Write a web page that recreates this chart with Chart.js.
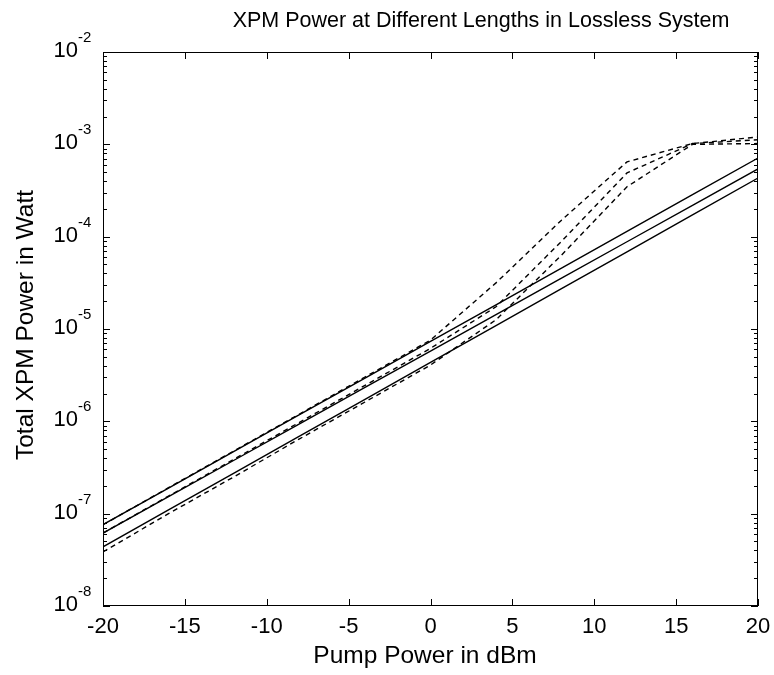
<!DOCTYPE html>
<html>
<head>
<meta charset="utf-8">
<script src="https://cdn.jsdelivr.net/npm/chart.js@4.4.1/dist/chart.umd.min.js"></script>
<style>
html,body{margin:0;padding:0;background:#fff;}
canvas{display:block;}
</style>
</head>
<body>
<canvas id="grafico" width="774" height="675"></canvas>
<script>
const $ = id => document.getElementById(id);

// ===== DATA =====
const pumpDbm = [-20,-16,-12,-8,-4,0,4,8,12,16,20];
const xTicks = [-20,-15,-10,-5,0,5,10,15,20];
const yExps = [-8,-7,-6,-5,-4,-3,-2];

const titulo = 'XPM Power at Different Lengths in Lossless System';
const xTitulo = 'Pump Power in dBm';
const yTitulo = 'Total XPM Power in Watt';

// solid (analytic) curves
const solido1 = [7.6e-8,1.89e-7,4.72e-7,1.18e-6,2.94e-6,7.35e-6,1.83e-5,4.57e-5,1.14e-4,2.85e-4,7.1e-4];
const solido2 = [6.17e-8,1.53e-7,3.79e-7,9.4e-7,2.33e-6,5.77e-6,1.43e-5,3.55e-5,8.81e-5,2.18e-4,5.41e-4];
const solido3 = [4.37e-8,1.1e-7,2.75e-7,6.9e-7,1.73e-6,4.35e-6,1.09e-5,2.74e-5,6.85e-5,1.72e-4,4.32e-4];

// dashed curves
const tracejado1 = [7.59e-8,1.91e-7,4.79e-7,1.2e-6,3.02e-6,7.59e-6,3.16e-5,1.51e-4,6.46e-4,1.02e-3,1.2e-3];
const tracejado2 = [6.17e-8,1.55e-7,3.89e-7,9.77e-7,2.45e-6,6.17e-6,1.74e-5,8.91e-5,4.9e-4,1.02e-3,1.12e-3];
const tracejado3 = [3.85e-8,1.0e-7,2.51e-7,6.46e-7,1.62e-6,4.07e-6,1.26e-5,6.31e-5,3.47e-4,1.0e-3,1.02e-3];

// ===== HELPERS =====
const pts = serie => pumpDbm.map((x,i)=>({x, y:serie[i]}));
const linha = (serie, dash) => ({
  data: pts(serie),
  borderColor:'#000',
  borderWidth:1.4,
  borderDash: dash ? [5,4] : [],
  pointRadius:0,
  fill:false,
  tension:0
});

const FONTE = '"Liberation Sans", Arial, sans-serif';

// ===== AXES / TEXT =====
const moldura = {
  id:'moldura',
  afterDraw(chart){
    const ctx = chart.ctx;
    const {left,right,top,bottom} = chart.chartArea;
    const sx = chart.scales.x, sy = chart.scales.y;
    ctx.save();
    ctx.strokeStyle = '#000';
    ctx.lineWidth = 1;
    ctx.strokeRect(left+0.5, top+0.5, right-left-1, bottom-top-1);

    // x ticks, inward on bottom and top
    ctx.beginPath();
    xTicks.forEach(t=>{
      const px = Math.round(sx.getPixelForValue(t))+0.5;
      ctx.moveTo(px,bottom); ctx.lineTo(px,bottom-7);
      ctx.moveTo(px,top); ctx.lineTo(px,top+7);
    });
    // y ticks, majors + minors
    yExps.forEach(e=>{
      for(let m=1;m<=9;m++){
        if(e===-2 && m>1) break;
        const py = Math.round(sy.getPixelForValue(m*Math.pow(10,e)))+0.5;
        const len = m===1 ? 7 : 4;
        ctx.moveTo(left,py); ctx.lineTo(left+len,py);
        ctx.moveTo(right,py); ctx.lineTo(right-len,py);
      }
    });
    ctx.stroke();

    ctx.fillStyle = '#000';
    // x tick labels
    ctx.font = '22px '+FONTE;
    ctx.textAlign = 'center';
    ctx.textBaseline = 'middle';
    xTicks.forEach(t=>ctx.fillText(String(t), sx.getPixelForValue(t), bottom+21));

    // y tick labels 10^e
    yExps.forEach(e=>{
      const py = sy.getPixelForValue(Math.pow(10,e));
      ctx.font = '22px '+FONTE;
      ctx.textAlign = 'right';
      ctx.fillText('10', 78, py-1);
      ctx.font = '15px '+FONTE;
      ctx.textAlign = 'left';
      ctx.fillText(String(e), 78, py-14);
    });

    // titles
    ctx.textAlign = 'center';
    ctx.font = '21.5px '+FONTE;
    ctx.fillText(titulo, 481, 21);
    ctx.font = '24.5px '+FONTE;
    ctx.fillText(xTitulo, 425, 656);
    ctx.translate(26, 325);
    ctx.rotate(-Math.PI/2);
    ctx.fillText(yTitulo, 0, 0);
    ctx.restore();
  }
};

// ===== GRAPH =====
const chart = new Chart($('grafico'),{
  type:'line',
  data:{
    datasets:[
      linha(solido1,false),
      linha(solido2,false),
      linha(solido3,false),
      linha(tracejado1,true),
      linha(tracejado2,true),
      linha(tracejado3,true)
    ]
  },
  options:{
    responsive:false,
    animation:false,
    layout:{padding:{top:52,right:16,left:0,bottom:0}},
    plugins:{legend:{display:false},tooltip:{enabled:false},title:{display:false}},
    scales:{
      x:{
        type:'linear', min:-20, max:20,
        ticks:{display:false},
        grid:{display:false},
        border:{display:false},
        afterFit(s){ s.height = 69; }
      },
      y:{
        type:'logarithmic', min:1e-8, max:1e-2,
        ticks:{display:false},
        grid:{display:false},
        border:{display:false},
        afterFit(s){ s.width = 103; }
      }
    }
  },
  plugins:[moldura]
});
</script>
</body>
</html>
